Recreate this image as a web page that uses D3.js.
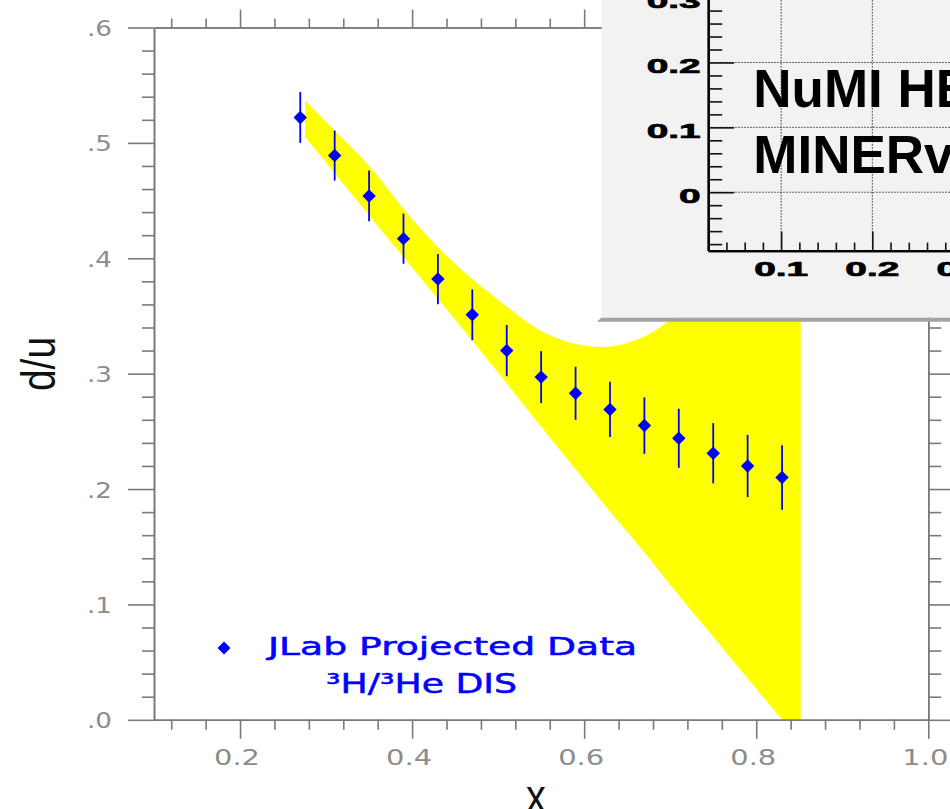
<!DOCTYPE html>
<html><head><meta charset="utf-8">
<script src="https://cdn.jsdelivr.net/npm/d3@7"></script>
<style>body{margin:0;background:#fff;overflow:hidden}svg{display:block}</style>
</head><body>
<svg id="c" width="950" height="809"></svg>
<script>
// ---- data ----
const xData = [0.27,0.31,0.35,0.39,0.43,0.47,0.51,0.55,0.59,0.63,0.67,0.71,0.75,0.79,0.83];
const yData = [0.522,0.489,0.454,0.417,0.382,0.351,0.320,0.297,0.283,0.269,0.255,0.244,0.231,0.220,0.210];
const yErr  = [0.022,0.0217,0.022,0.0217,0.0218,0.022,0.0222,0.0225,0.023,0.024,0.0245,0.0256,0.0261,0.027,0.0279];
const bandX    = [0.2756,0.30,0.35,0.40,0.45,0.50,0.55,0.60,0.625,0.65,0.68,0.70,0.75,0.80,0.8517];
const bandLow  = [0.505,0.483,0.437,0.392,0.347,0.301,0.254,0.208,0.185,0.163,0.136,0.117,0.072,0.027,-0.019];
const bandHigh = [0.537,0.518,0.480,0.434,0.395,0.364,0.337,0.3245,0.3232,0.3265,0.336,0.347,0.378,0.415,0.455];
const xTicks = [0.2,0.4,0.6,0.8,1.0];
const xTickLabels = ["0.2","0.4","0.6","0.8","1.0"];
const yTicks = [0,0.1,0.2,0.3,0.4,0.5,0.6];
const yTickLabels = [".0",".1",".2",".3",".4",".5",".6"];
const xTitle = "x";
const yTitle = "d/u";
const legendLines = ["JLab Projected Data","\u00B3H/\u00B3He DIS"];
const insetXTicks = [0.1,0.2,0.3];
const insetXLabels = ["0.1","0.2","0.3"];
const insetYTicks = [0,0.1,0.2,0.3];
const insetYLabels = ["0","0.1","0.2","0.3"];
const insetText = ["NuMI HE","MINERvA"];

// ---- scales ----
const svg = d3.select("#c");
const x = d3.scaleLinear().domain([0.1,1.0]).range([154,928.3]);
const y = d3.scaleLinear().domain([0,0.6]).range([719.8,27.5]);
const axisColor = "#7a7a7a", labelColor = "#8c8c8c";

svg.append("defs").append("clipPath").attr("id","plotclip")
  .append("rect").attr("x",x(0.1)).attr("y",y(0.6)).attr("width",x(1.0)-x(0.1)).attr("height",y(0)-y(0.6));

// band
const band = bandX.map((bx,i)=>({x:bx,lo:bandLow[i],hi:bandHigh[i]}));
svg.append("path").datum(band).attr("clip-path","url(#plotclip)")
  .attr("d", d3.area().x(d=>x(d.x)).y0(d=>y(d.lo)).y1(d=>y(d.hi)).curve(d3.curveMonotoneX))
  .attr("fill","#ffff00");

// axes
function styleAxis(g){
  g.selectAll("path.domain").attr("stroke",axisColor).attr("stroke-width",1.6);
  g.selectAll(".tick line").attr("stroke",axisColor).attr("stroke-width",1.6);
}
const minorX = d3.range(0.12,1.0,0.04).filter(v=>!xTicks.some(t=>Math.abs(t-v)<1e-6));
const minorY = d3.range(0.02,0.6,0.02).filter(v=>!yTicks.some(t=>Math.abs(t-v)<1e-6));

// bottom
const gb = svg.append("g").attr("transform",`translate(0,${y(0)})`);
gb.call(d3.axisBottom(x).tickValues(xTicks).tickSize(19).tickSizeOuter(0).tickFormat((d,i)=>xTickLabels[i]));
gb.append("g").call(d3.axisBottom(x).tickValues(minorX).tickSize(10).tickSizeOuter(0).tickFormat(""));
styleAxis(gb);
gb.selectAll(".tick text").attr("y",45.5).attr("dy",null).attr("dx",-3.5)
  .attr("fill",labelColor).attr("font-family","DejaVu Sans").attr("font-size",21)
  .attr("textLength",46).attr("lengthAdjust","spacingAndGlyphs");

// top
const gt = svg.append("g").attr("transform",`translate(0,${y(0.6)})`);
gt.call(d3.axisTop(x).tickValues(xTicks).tickSize(18).tickSizeOuter(0).tickFormat(""));
gt.append("g").call(d3.axisTop(x).tickValues(minorX).tickSize(9).tickSizeOuter(0).tickFormat(""));
styleAxis(gt);

// left
const gl = svg.append("g").attr("transform",`translate(${x(0.1)},0)`);
gl.call(d3.axisLeft(y).tickValues(yTicks).tickSize(26).tickSizeOuter(0).tickFormat((d,i)=>yTickLabels[i]));
gl.append("g").call(d3.axisLeft(y).tickValues(minorY).tickSize(12).tickSizeOuter(0).tickFormat(""));
styleAxis(gl);
gl.selectAll(".tick text").attr("x",-42).attr("dy","0.38em")
  .attr("fill",labelColor).attr("font-family","DejaVu Sans").attr("font-size",21)
  .attr("textLength",25).attr("lengthAdjust","spacingAndGlyphs");

// right
const gr = svg.append("g").attr("transform",`translate(${x(1.0)},0)`);
gr.call(d3.axisRight(y).tickValues(yTicks).tickSize(26).tickSizeOuter(0).tickFormat(""));
gr.append("g").call(d3.axisRight(y).tickValues(minorY).tickSize(13).tickSizeOuter(0).tickFormat(""));
styleAxis(gr);

// error bars + markers
const pts = xData.map((v,i)=>({x:v,y:yData[i],e:yErr[i]}));
svg.append("g").selectAll("line").data(pts).join("line")
  .attr("x1",d=>x(d.x)).attr("x2",d=>x(d.x))
  .attr("y1",d=>y(d.y+d.e)).attr("y2",d=>y(d.y-d.e))
  .attr("stroke","#0000ff").attr("stroke-width",1.8);
const diamond = d3.symbol().type(d3.symbolSquare).size(90);
svg.append("g").selectAll("path").data(pts).join("path")
  .attr("d",diamond).attr("transform",d=>`translate(${x(d.x)},${y(d.y)}) rotate(45)`)
  .attr("fill","#0000ff");

// legend
svg.append("path").attr("d",d3.symbol().type(d3.symbolSquare).size(84)())
  .attr("transform","translate(224,648) rotate(45)").attr("fill","#0000ff");
svg.append("text").attr("x",268).attr("y",655).text(legendLines[0])
  .attr("font-family","DejaVu Sans").attr("font-size",24).attr("fill","#0000ff")
  .attr("stroke","#0000ff").attr("stroke-width",0.5)
  .attr("textLength",369).attr("lengthAdjust","spacingAndGlyphs");
svg.append("text").attr("x",326).attr("y",693).text(legendLines[1])
  .attr("font-family","DejaVu Sans").attr("font-size",27).attr("fill","#0000ff")
  .attr("stroke","#0000ff").attr("stroke-width",0.5)
  .attr("textLength",191).attr("lengthAdjust","spacingAndGlyphs");

// titles
svg.append("text").text(yTitle).attr("text-anchor","middle")
  .attr("transform","translate(55,364) rotate(-90) scale(1.08,1.32)")
  .attr("font-family","Liberation Sans").attr("font-size",36).attr("fill","#111");
svg.append("text").text(xTitle).attr("text-anchor","middle")
  .attr("transform","translate(536,812) scale(1.1,1.3)")
  .attr("font-family","Liberation Sans").attr("font-size",36).attr("fill","#111");

// ---- inset ----
const inset = svg.append("g");
inset.append("polygon").attr("points","596.7,321.7 601.7,317.5 950,317.5 950,321.7").attr("fill","#a3a3a3");
inset.append("rect").attr("x",601.7).attr("y",-5).attr("width",360).attr("height",322.5).attr("fill","#f2f2f2");
const ix = d3.scaleLinear().domain([0.02,0.3]).range([708.2,963.5]);
const iy = d3.scaleLinear().domain([-0.09,0.3]).range([250.6,-2.4]);
// grid
inset.append("g").selectAll("line").data(insetYTicks).join("line")
  .attr("x1",ix(0.02)).attr("x2",960).attr("y1",d=>iy(d)).attr("y2",d=>iy(d))
  .attr("stroke","#333").attr("stroke-width",1).attr("stroke-dasharray","1.5,1.5");
inset.append("g").selectAll("line").data(insetXTicks).join("line")
  .attr("x1",d=>ix(d)).attr("x2",d=>ix(d)).attr("y1",iy(-0.09)).attr("y2",-5)
  .attr("stroke","#333").attr("stroke-width",1).attr("stroke-dasharray","1.5,1.5");
const iMinorX = d3.range(0.04,0.3,0.02).filter(v=>!insetXTicks.some(t=>Math.abs(t-v)<1e-6));
const iMinorY = d3.range(-0.08,0.3,0.02).filter(v=>!insetYTicks.some(t=>Math.abs(t-v)<1e-6));
function styleInset(g){
  g.selectAll("path.domain").attr("stroke","#000").attr("stroke-width",2.2);
  g.selectAll(".tick line").attr("stroke","#111").attr("stroke-width",1.6);
}
const igx = inset.append("g").attr("transform",`translate(0,${iy(-0.09)})`);
igx.call(d3.axisTop(ix).tickValues(insetXTicks).tickSize(19).tickSizeOuter(0).tickFormat(""));
igx.append("g").call(d3.axisTop(ix).tickValues(iMinorX).tickSize(8).tickSizeOuter(0).tickFormat(""));
styleInset(igx);
const igy = inset.append("g").attr("transform",`translate(${ix(0.02)},0)`);
igy.call(d3.axisRight(iy).tickValues(insetYTicks).tickSize(26).tickSizeOuter(0).tickFormat(""));
igy.append("g").call(d3.axisRight(iy).tickValues(iMinorY).tickSize(14).tickSizeOuter(0).tickFormat(""));
styleInset(igy);
// labels
inset.append("g").selectAll("text").data(insetYTicks).join("text")
  .attr("transform",d=>`translate(700.7,${iy(d)+10.6}) scale(1.85,1)`)
  .attr("text-anchor","end").text((d,i)=>insetYLabels[i])
  .attr("font-family","Liberation Sans").attr("font-weight","bold").attr("font-size",21)
  .attr("fill","#000").attr("stroke","#000").attr("stroke-width",0.7);
inset.append("g").selectAll("text").data(insetXTicks).join("text")
  .attr("transform",d=>`translate(${ix(d)},276) scale(1.85,1)`)
  .attr("text-anchor","middle").text((d,i)=>insetXLabels[i])
  .attr("font-family","Liberation Sans").attr("font-weight","bold").attr("font-size",21)
  .attr("fill","#000").attr("stroke","#000").attr("stroke-width",0.7);
inset.append("g").selectAll("text").data(insetText).join("text")
  .attr("x",753.3).attr("y",(d,i)=>i===0?106.7:173.3).text(d=>d)
  .attr("font-family","Liberation Sans").attr("font-weight","bold").attr("font-size",53).attr("fill","#000");
</script>
</body></html>
